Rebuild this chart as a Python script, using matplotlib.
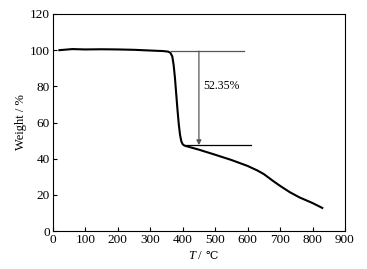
import matplotlib
matplotlib.use("Agg")
import matplotlib.pyplot as plt

plt.rcParams['font.family'] = ['Liberation Serif', 'DejaVu Serif', 'DejaVu Sans']
plt.rcParams['font.size'] = 9

# TGA curve
temp = [20, 60, 100, 150, 200, 250, 300, 340, 355, 362, 368, 372, 376, 380,
        384, 388, 392, 396, 400, 405, 410, 430, 450, 500, 550, 600, 630,
        650, 680, 700, 730, 760, 800, 830]
weight = [100, 100.6, 100.4, 100.5, 100.4, 100.2, 99.8, 99.5, 99.2, 98.6,
          96.5, 92, 85, 76, 67, 59, 53, 49.5, 48, 47.3, 47, 46, 45, 42.2,
          39.3, 36, 33.5, 31.5, 27.5, 25, 21.5, 18.6, 15.5, 12.8]

start_w = 99.5
end_w = 47.5
loss_label = "52.35%"

fig = plt.figure(figsize=(3.67, 2.69), dpi=100)
ax = fig.add_axes([0.144, 0.141, 0.796, 0.807])

ax.plot(temp, weight, color='black', lw=1.5)

# annotation lines
ax.plot([365, 590], [start_w, start_w], color='#555555', lw=0.9)
ax.plot([410, 610], [end_w, end_w], color='black', lw=0.9)
ax.annotate('', xy=(450, end_w), xytext=(450, start_w),
            arrowprops=dict(arrowstyle='-|>', color='#555555', lw=0.9,
                            mutation_scale=7, shrinkA=0, shrinkB=0))
ax.text(462, 80, loss_label, fontsize=8.5, va='center', ha='left')

ax.set_xlim(0, 900)
ax.set_ylim(0, 120)
ax.set_xticks(range(0, 901, 100))
ax.set_yticks(range(0, 121, 20))
ax.tick_params(direction='in', length=3, width=0.8, pad=2, labelsize=9.5)
for s in ax.spines.values():
    s.set_linewidth(0.8)

# x label: italic T followed by " / ℃"
ax.text(0.488, -0.128, 'T', style='italic', ha='right', va='baseline',
        transform=ax.transAxes)
ax.text(0.488, -0.128, ' /', ha='left', va='baseline', transform=ax.transAxes)
ax.text(0.522, -0.128, '℃', ha='left', va='baseline', fontsize=8,
        transform=ax.transAxes)
ax.set_ylabel('Weight / %', labelpad=2)

fig.savefig('out.png', dpi=100)
